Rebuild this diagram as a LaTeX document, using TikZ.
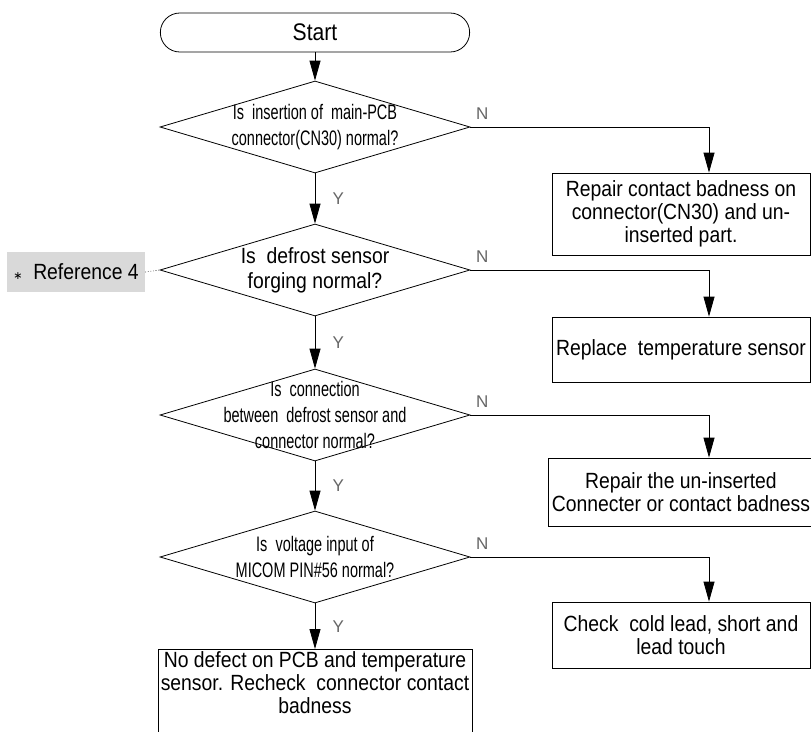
\documentclass[tikz,border=0pt]{standalone}
\usepackage{fontspec}
\setmainfont{Liberation Sans}
\newfontfamily\boxface[FakeStretch=0.88]{Liberation Sans}
\newfontfamily\narrowface[FakeStretch=0.69]{Liberation Sans}
\newfontfamily\symface{DejaVu Sans}
\usepackage{tikz}
\usetikzlibrary{shapes.geometric,shapes.misc,arrows.meta}

\begin{document}
\begin{tikzpicture}[
        x=1pt,
        y=-1pt,
        line width=0.8pt,
        terminal/.style={
            draw,
            rounded rectangle,
            minimum width=316pt,
            minimum height=39pt,
            font=\boxface\fontsize{24}{26}\selectfont
        },
        decision/.style={
            draw,
            diamond,
            minimum width=310pt,
            minimum height=92pt,
            inner sep=0pt
        },
        question/.style={
            align=center,
            font=\narrowface\fontsize{21}{26}\selectfont
        },
        bigquestion/.style={
            align=center,
            font=\boxface\fontsize{22}{25}\selectfont
        },
        outtext/.style={
            align=center,
            font=\boxface\fontsize{22}{23}\selectfont
        },
        outcome/.style={
            draw,
            rectangle,
            outtext,
            minimum width=258pt
        },
        reference/.style={
            fill=gray!30,
            minimum width=138pt,
            minimum height=40pt,
            font=\boxface\fontsize{22}{24}\selectfont
        },
        answer/.style={
            text=black!60,
            font=\fontsize{17}{17}\selectfont
        },
        arrow/.style={
            -{Triangle[length=20pt, width=11pt]},
            line width=0.8pt
        }
    ]

    \useasboundingbox (0,0) rectangle (811,731);
    \clip (0,0) rectangle (811,731);

    \node[terminal] (start) at (315,32.5) {Start};

    \node[decision, label={[question]center:{Is\ \ insertion of\ \ main-PCB\\connector(CN30) normal?}}] (check1) at (315,127) {};
    \node[decision, label={[bigquestion]center:{Is\ \ defrost sensor\\forging normal?}}] (check2) at (315,270) {};
    \node[decision, label={[question]center:{Is\ \ connection\\between\ \ defrost sensor and\\connector normal?}}] (check3) at (315,415) {};
    \node[decision, label={[question]center:{Is\ \ voltage input of\\MICOM PIN\#56 normal?}}] (check4) at (315,557) {};

    \node[outcome, minimum height=82pt] (repair1) at (681,214) {Repair contact badness on\\connector(CN30) and un-\\inserted part.};
    \node[outcome, minimum height=65pt] (replace) at (681,349.5) {Replace\ \ temperature sensor};
    \node[outcome, minimum height=68pt] (repair2) at (681,492) {Repair the un-inserted\\Connecter or contact badness};
    \node[outcome, minimum height=66pt] (checklead) at (681,635) {Check\ \ cold lead, short and\\lead touch};
    \node[outcome, anchor=north, minimum width=314pt, minimum height=100pt, label={[outtext, anchor=north, inner sep=2pt]north:{No defect on PCB and temperature\\sensor. Recheck\ \ connector contact\\badness}}] (nodefect) at (315,649) {};

    \node[reference] (ref4) at (76,272) {{\symface\fontsize{11}{11}\selectfont ∗}\ \ Reference 4};

    \draw[arrow] (start.south) -- (check1.north);
    \draw[arrow] (check1.south) -- node[answer, right=14pt] {Y} (check2.north);
    \draw[arrow] (check2.south) -- node[answer, right=14pt] {Y} (check3.north);
    \draw[arrow] (check3.south) -- node[answer, right=14pt] {Y} (check4.north);
    \draw[arrow] (check4.south) -- node[answer, right=14pt] {Y} (nodefect.north);

    \draw[arrow] (check1.east) -| node[answer, pos=0.025, above=4pt] {N} ([xshift=28pt]repair1.north);
    \draw[arrow] (check2.east) -| node[answer, pos=0.025, above=4pt] {N} ([xshift=28pt]replace.north);
    \draw[arrow] (check3.east) -| node[answer, pos=0.025, above=4pt] {N} ([xshift=28pt]repair2.north);
    \draw[arrow] (check4.east) -| node[answer, pos=0.025, above=4pt] {N} ([xshift=28pt]checklead.north);

    \draw[dotted, line width=0.6pt] (ref4.east) -- (check2.west);

    \end{tikzpicture}
\end{document}
